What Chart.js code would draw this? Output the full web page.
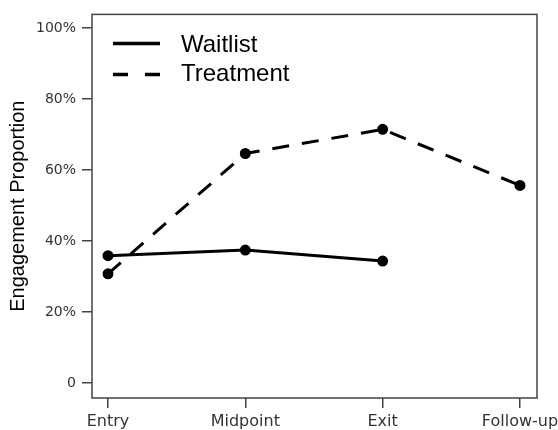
<!DOCTYPE html>
<html>
<head>
<meta charset="utf-8">
<script src="https://cdn.jsdelivr.net/npm/chart.js@4.4.1/dist/chart.umd.min.js"></script>
<style>
  html, body { margin: 0; padding: 0; background: #fff; }
  #wrap { width: 558px; height: 430px; }
</style>
</head>
<body>
<div id="wrap"><canvas id="myChart" width="558" height="430"></canvas></div>
<script>
// Adatok
const categories = ['Entry', 'Midpoint', 'Exit', 'Follow-up'];
const waitlist = [35.9, 37.5, 34.4];
const treatment = [30.8, 64.7, 71.5, 55.7];
const yTicks = [0, 20, 40, 60, 80, 100];

const toPoints = arr => arr.map((v, i) => ({ x: i, y: v }));

// Keret + jelmagyarázat rajzolása
const boxAndLegend = {
    id: 'boxAndLegend',
    afterDraw(chart) {
        const ctx = chart.ctx;
        const a = chart.chartArea;
        ctx.save();
        ctx.strokeStyle = '#444';
        ctx.lineWidth = 1.5;
        ctx.strokeRect(a.left, a.top, a.right - a.left, a.bottom - a.top);

        const x0 = a.left + 21, x1 = a.left + 68;
        ctx.strokeStyle = '#000';
        ctx.lineWidth = 3.5;
        ctx.beginPath();
        ctx.moveTo(x0, a.top + 29);
        ctx.lineTo(x1, a.top + 29);
        ctx.stroke();
        ctx.setLineDash([15, 17]);
        ctx.beginPath();
        ctx.moveTo(x0, a.top + 60);
        ctx.lineTo(x1, a.top + 60);
        ctx.stroke();
        ctx.setLineDash([]);

        ctx.fillStyle = '#000';
        ctx.font = '24px "Liberation Sans", Arial, sans-serif';
        ctx.textBaseline = 'middle';
        ctx.fillText('Waitlist', a.left + 89, a.top + 31);
        ctx.fillText('Treatment', a.left + 89, a.top + 60);
        ctx.restore();
    }
};

const tickFont = { family: '"DejaVu Sans", sans-serif', size: 14 };

new Chart(document.getElementById('myChart'), {
    type: 'line',
    data: {
        datasets: [{
            label: 'Waitlist',
            data: toPoints(waitlist),
            borderColor: '#000',
            backgroundColor: '#000',
            borderWidth: 3,
            pointRadius: 4,
            tension: 0
        }, {
            label: 'Treatment',
            data: toPoints(treatment),
            borderColor: '#000',
            backgroundColor: '#000',
            borderWidth: 3,
            borderDash: [17, 13],
            pointRadius: 4,
            tension: 0
        }]
    },
    options: {
        responsive: false,
        animation: false,
        layout: { padding: { top: 12, right: 21, left: 0, bottom: 0 } },
        plugins: { legend: { display: false }, tooltip: { enabled: false } },
        scales: {
            x: {
                type: 'linear',
                min: -0.1165,
                max: 3.124,
                afterBuildTicks: s => { s.ticks = categories.map((c, i) => ({ value: i })); },
                afterFit: s => { s.height = 32; s.paddingLeft = 0; s.paddingRight = 0; },
                grid: { drawOnChartArea: false, tickLength: 10, color: '#444', lineWidth: 1.5 },
                border: { display: false },
                ticks: {
                    color: '#333',
                    font: { family: '"DejaVu Sans", sans-serif', size: 16 },
                    padding: 4,
                    maxRotation: 0,
                    callback: v => categories[v]
                }
            },
            y: {
                min: -4.2,
                max: 103.9,
                afterBuildTicks: s => { s.ticks = yTicks.map(v => ({ value: v })); },
                afterFit: s => { s.width = 92; },
                grid: { drawOnChartArea: false, tickLength: 10, color: '#444', lineWidth: 1.5 },
                border: { display: false },
                ticks: {
                    color: '#333',
                    font: tickFont,
                    padding: 6,
                    callback: v => v === 0 ? '0' : v + '%'
                },
                title: {
                    display: true,
                    text: 'Engagement Proportion',
                    color: '#000',
                    font: { family: '"Liberation Sans", Arial, sans-serif', size: 20 },
                    padding: { top: 6, bottom: 0 }
                }
            }
        }
    },
    plugins: [boxAndLegend]
});
</script>
</body>
</html>
